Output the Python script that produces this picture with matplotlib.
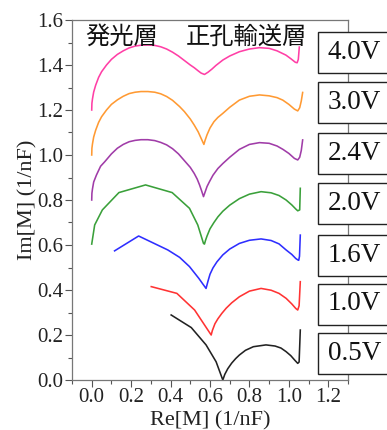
import matplotlib
matplotlib.use("Agg")
import matplotlib.pyplot as plt
from matplotlib.patches import Rectangle
from matplotlib.ticker import MultipleLocator

# ---- data ----
x_40 = [0.0, 0.001, 0.004, 0.01, 0.02, 0.035, 0.05, 0.075, 0.10, 0.13, 0.16, 0.19, 0.22, 0.25, 0.285,
        0.32, 0.35, 0.38, 0.41, 0.44, 0.47, 0.50, 0.52, 0.54, 0.555, 0.572,
        0.59, 0.61, 0.63, 0.665, 0.70, 0.749, 0.80, 0.85, 0.90, 0.94, 0.985, 1.01, 1.033, 1.042, 1.048, 1.053]
y_40 = [1.20, 1.23, 1.25, 1.28, 1.31, 1.345, 1.37, 1.40, 1.425, 1.447, 1.463, 1.476, 1.484, 1.488, 1.489,
        1.487, 1.481, 1.471, 1.457, 1.44, 1.42, 1.40, 1.388, 1.374, 1.364, 1.358,
        1.368, 1.382, 1.398, 1.422, 1.44, 1.459, 1.471, 1.477, 1.474, 1.463, 1.444, 1.428, 1.412, 1.41, 1.425, 1.48]

x_30 = [0.0, 0.001, 0.004, 0.01, 0.02, 0.035, 0.05, 0.075, 0.10, 0.13, 0.16, 0.19, 0.22, 0.25, 0.285,
        0.32, 0.35, 0.38, 0.41, 0.446, 0.47, 0.50, 0.52, 0.54, 0.555, 0.569,
        0.575, 0.585, 0.60, 0.62, 0.64, 0.665, 0.70, 0.749, 0.80, 0.851, 0.90, 0.94, 0.969, 1.00, 1.028,
        1.045, 1.055, 1.063, 1.07]
y_30 = [1.00, 1.03, 1.05, 1.08, 1.11, 1.145, 1.17, 1.20, 1.225, 1.245, 1.261, 1.273, 1.279, 1.282, 1.282,
        1.279, 1.272, 1.26, 1.243, 1.215, 1.193, 1.16, 1.133, 1.103, 1.074, 1.047,
        1.065, 1.09, 1.12, 1.148, 1.167, 1.185, 1.212, 1.244, 1.261, 1.267, 1.263, 1.255, 1.244, 1.225, 1.204,
        1.196, 1.21, 1.24, 1.278]

x_24 = [0.0, 0.001, 0.004, 0.01, 0.024, 0.045, 0.066, 0.10, 0.13, 0.16, 0.19, 0.22, 0.25, 0.285,
        0.32, 0.35, 0.38, 0.41, 0.44, 0.47, 0.50, 0.52, 0.535, 0.547, 0.557, 0.567,
        0.575, 0.585, 0.597, 0.615, 0.64, 0.665, 0.70, 0.749, 0.80, 0.851, 0.90, 0.94, 0.97, 1.00, 1.028,
        1.045, 1.055, 1.063, 1.07]
y_24 = [0.80, 0.83, 0.85, 0.88, 0.911, 0.95, 0.97, 1.005, 1.03, 1.047, 1.059, 1.065, 1.068, 1.068,
        1.064, 1.056, 1.045, 1.028, 1.005, 0.975, 0.945, 0.918, 0.893, 0.867, 0.842, 0.815,
        0.835, 0.86, 0.881, 0.91, 0.94, 0.962, 0.99, 1.025, 1.047, 1.055, 1.052, 1.04, 1.025, 1.007, 0.985,
        0.978, 0.99, 1.02, 1.067]

x_20 = [0.0, 0.015, 0.054, 0.138, 0.273, 0.408, 0.496, 0.538, 0.567, 0.572,
        0.577, 0.585, 0.60, 0.62, 0.64, 0.665, 0.70, 0.749, 0.80, 0.859, 0.91, 0.95, 0.986, 1.015, 1.035,
        1.045, 1.055, 1.058]
y_20 = [0.604, 0.689, 0.756, 0.833, 0.867, 0.833, 0.763, 0.689, 0.607, 0.604,
        0.62, 0.64, 0.672, 0.70, 0.725, 0.75, 0.777, 0.806, 0.826, 0.837, 0.832, 0.82, 0.80, 0.778, 0.76,
        0.752, 0.756, 0.852]

x_16 = [0.116, 0.238, 0.386, 0.446, 0.496, 0.543, 0.565, 0.58,
        0.59, 0.60, 0.615, 0.635, 0.665, 0.70, 0.749, 0.80, 0.859, 0.91, 0.95, 0.986, 1.015, 1.035,
        1.045, 1.05, 1.054, 1.058]
y_16 = [0.574, 0.640, 0.578, 0.545, 0.504, 0.452, 0.425, 0.407,
        0.44, 0.47, 0.498, 0.525, 0.556, 0.582, 0.607, 0.621, 0.627, 0.62, 0.605, 0.578, 0.558, 0.54,
        0.534, 0.532, 0.55, 0.644]

x_10 = [0.302, 0.432, 0.522, 0.606,
        0.612, 0.625, 0.64, 0.66, 0.682, 0.71, 0.749, 0.80, 0.859, 0.91, 0.95, 0.986, 1.015, 1.035,
        1.045, 1.052, 1.058]
y_10 = [0.415, 0.385, 0.311, 0.200,
        0.22, 0.25, 0.272, 0.296, 0.319, 0.343, 0.37, 0.395, 0.407, 0.399, 0.385, 0.363, 0.338, 0.318,
        0.311, 0.33, 0.437]

x_05 = [0.403, 0.505, 0.58, 0.631, 0.665,
        0.675, 0.69, 0.71, 0.73, 0.749, 0.78, 0.82, 0.884, 0.93, 0.96, 0.986, 1.01, 1.03,
        1.045, 1.052, 1.058]
y_05 = [0.289, 0.233, 0.156, 0.081, 0.0,
        0.025, 0.05, 0.075, 0.095, 0.111, 0.132, 0.148, 0.156, 0.151, 0.142, 0.126, 0.108, 0.088,
        0.074, 0.08, 0.222]

series = [
    (x_40, y_40, "#FF3FA6", "4.0V"),
    (x_30, y_30, "#FF9A33", "3.0V"),
    (x_24, y_24, "#A03CA8", "2.4V"),
    (x_20, y_20, "#3AA03A", "2.0V"),
    (x_16, y_16, "#2E2EFF", "1.6V"),
    (x_10, y_10, "#FF3333", "1.0V"),
    (x_05, y_05, "#222222", "0.5V"),
]

W, H = 387, 430
fig = plt.figure(figsize=(W / 100, H / 100), dpi=100)
ax = fig.add_axes([72 / W, 1 - 380 / H, (348 - 72) / W, (380 - 20) / H])

for xs, ys, c, lab in series:
    ax.plot(xs, ys, color=c, lw=1.15, solid_joinstyle="round", clip_on=False)

ax.set_xlim(-0.1, 1.3)
ax.set_ylim(0.0, 1.6)
ax.xaxis.set_minor_locator(MultipleLocator(0.1))
ax.yaxis.set_minor_locator(MultipleLocator(0.1))
ax.set_xticks([0.0, 0.2, 0.4, 0.6, 0.8, 1.0, 1.2])
ax.set_xticklabels(["0.0", "0.2", "0.4", "0.6", "0.8", "1.0", "1.2"])
ax.set_yticks([0.0, 0.2, 0.4, 0.6, 0.8, 1.0, 1.2, 1.4, 1.6])
ax.set_yticklabels(["0.0", "0.2", "0.4", "0.6", "0.8", "1.0", "1.2", "1.4", "1.6"])

serif = "Liberation Serif"
for lbl in ax.get_xticklabels() + ax.get_yticklabels():
    lbl.set_fontfamily(serif)
    lbl.set_fontsize(15)
    lbl.set_color("#222222")
ax.tick_params(which="major", direction="out", length=5, width=0.8, color="#555555", pad=1)
ax.tick_params(which="minor", direction="out", length=3, width=0.8, color="#555555")
for s in ax.spines.values():
    s.set_color("#777777")
    s.set_linewidth(0.9)

ax.set_xlabel("Re[M] (1/nF)", fontfamily=serif, fontsize=16, color="#222222", labelpad=2.5)
ax.set_ylabel("Im[M] (1/nF)", fontfamily=serif, fontsize=16, color="#222222", labelpad=0)

jp = ["Noto Sans CJK JP", "DejaVu Sans"]
ax.text(0.152, 1.524, "発光層", family=jp, fontsize=17.5, ha="center", va="center", color="#111111")
ax.text(0.785, 1.524, "正孔輸送層", family=jp, fontsize=17.5, ha="center", va="center", color="#111111")

# voltage label boxes on the right
box_centers = [52.5, 102.5, 153.5, 203, 255, 304, 353.5]
for (xs, ys, c, lab), yc in zip(series, box_centers):
    bh = 41
    rect = Rectangle((318 / W, 1 - (yc + bh / 2) / H), 80 / W, bh / H,
                     transform=fig.transFigure, facecolor="white", edgecolor="#222222",
                     lw=1.0, zorder=5, clip_on=False)
    fig.patches.append(rect)
    fig.text(328 / W, 1 - yc / H, lab, fontfamily=serif, fontsize=19.5, ha="left",
             va="center", color="#111111", zorder=6)

fig.savefig("out.png", dpi=100)
